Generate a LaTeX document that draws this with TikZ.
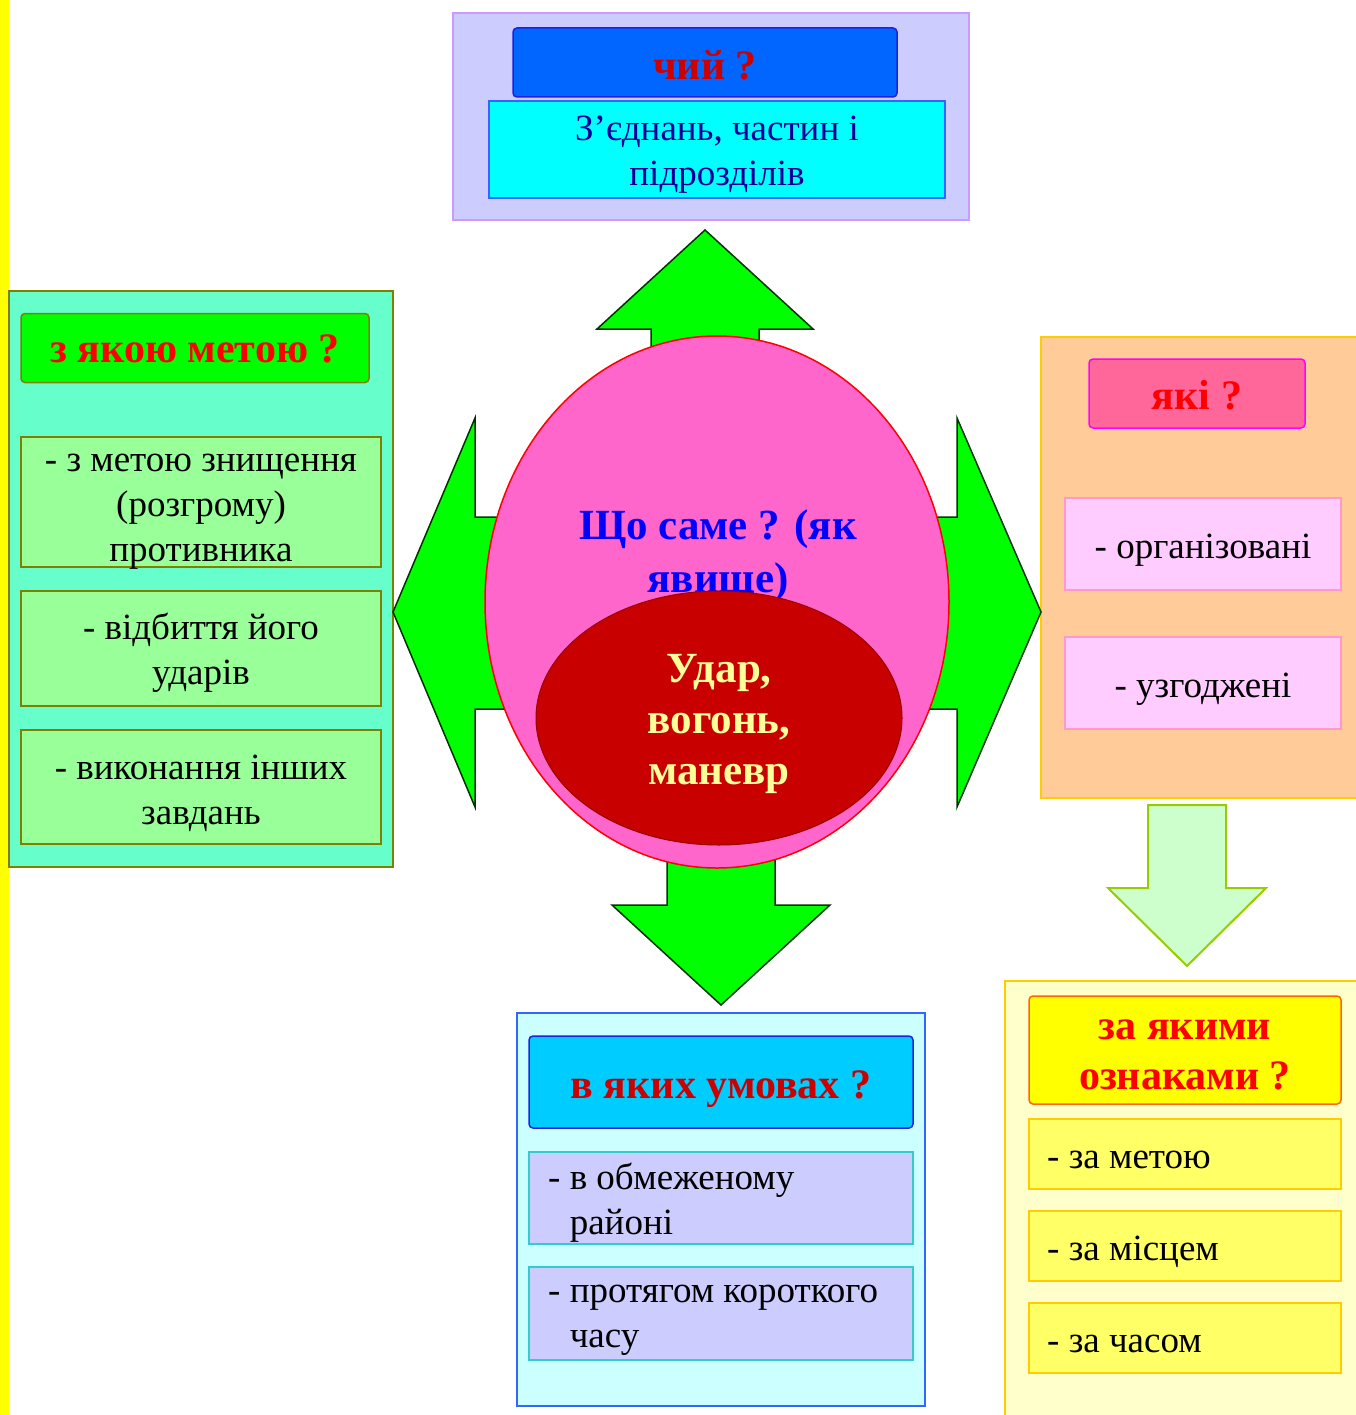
\documentclass[tikz,border=0pt]{standalone}
\usepackage{fontspec}
\setmainfont{Liberation Serif}
\usepackage{tikz}
\usetikzlibrary{shapes.geometric}

\definecolor{stripyel}{RGB}{255,255,0}
\definecolor{lilacfill}{RGB}{204,204,255}
\definecolor{lilacline}{RGB}{204,153,255}
\definecolor{royalfill}{RGB}{0,102,255}
\definecolor{royalline}{RGB}{30,34,224}
\definecolor{qred}{RGB}{204,0,0}
\definecolor{brightred}{RGB}{255,0,0}
\definecolor{aquafill}{RGB}{0,255,255}
\definecolor{aqualine}{RGB}{51,102,255}
\definecolor{inkblue}{RGB}{0,0,153}
\definecolor{arrowfill}{RGB}{0,255,0}
\definecolor{arrowline}{RGB}{0,51,0}
\definecolor{eggfill}{RGB}{255,102,204}
\definecolor{corefill}{RGB}{200,0,0}
\definecolor{coreline}{RGB}{153,0,0}
\definecolor{coretext}{RGB}{255,255,153}
\definecolor{mintfill}{RGB}{102,255,204}
\definecolor{oliveline}{RGB}{128,128,0}
\definecolor{leaffill}{RGB}{153,255,153}
\definecolor{peachfill}{RGB}{255,204,153}
\definecolor{goldline}{RGB}{255,204,0}
\definecolor{rosefill}{RGB}{255,102,153}
\definecolor{roseline}{RGB}{255,0,255}
\definecolor{blushfill}{RGB}{255,204,255}
\definecolor{blushline}{RGB}{255,153,204}
\definecolor{paleleaf}{RGB}{204,255,204}
\definecolor{paleleafline}{RGB}{153,204,0}
\definecolor{creamfill}{RGB}{255,255,204}
\definecolor{lemonline}{RGB}{255,102,0}
\definecolor{butterfill}{RGB}{255,255,102}
\definecolor{icefill}{RGB}{204,255,255}
\definecolor{skyfill}{RGB}{0,204,255}
\definecolor{tealline}{RGB}{51,204,204}

\begin{document}
\begin{tikzpicture}[x=1pt,y=-1pt,
    panel/.style={rectangle,draw,line width=1.5pt,inner sep=0pt},
    headbox/.style={panel,rounded corners=4pt},
    headtext/.style={inner sep=0pt,align=center,font=\fontsize{42}{50}\selectfont\bfseries},
    entrytext/.style={inner sep=0pt,align=center,font=\fontsize{37}{45}\selectfont},
    blockarrow/.style={fill=arrowfill,draw=arrowline,line width=1.5pt}]

  \useasboundingbox (0,0) rectangle (1355,1415);
  \fill[stripyel] (0,0) rectangle (9,1415);

  % top: whose ?
  \node[panel,fill=lilacfill,draw=lilacline,minimum width=516pt,minimum height=207pt] (TOP) at (711,116.5) {};
  \node[headbox,fill=royalfill,draw=royalline,minimum width=384pt,minimum height=69pt] (CHYI) at (705,62.5) {};
  \node[headtext,text=qred] (CHYIt) at (705,65.5) {чий ?};
  \node[panel,fill=aquafill,draw=aqualine,minimum width=456pt,minimum height=97pt] (ZYED) at (717,149.5) {};
  \node[entrytext,text=inkblue] (ZYEDt) at (717,154.5) {З’єднань, частин і\\підрозділів};

  % left: purpose
  \node[panel,fill=mintfill,draw=oliveline,minimum width=384pt,minimum height=576pt] (LEFT) at (201,579) {};
  \node[headbox,fill=arrowfill,draw=oliveline,minimum width=348pt,minimum height=69pt] (META) at (195,348) {};
  \node[headtext,text=brightred] (METAt) at (195,349) {з якою метою ?};
  \node[panel,fill=leaffill,draw=oliveline,minimum width=360pt,minimum height=130pt] (ZNYSH) at (201,502) {};
  \node[entrytext] (ZNYSHt) at (201,512) {- з метою знищення\\(розгрому)\\противника};
  \node[panel,fill=leaffill,draw=oliveline,minimum width=360pt,minimum height=115pt] (VIDB) at (201,648.5) {};
  \node[entrytext] (VIDBt) at (201,652.5) {- відбиття його\\ударів};
  \node[panel,fill=leaffill,draw=oliveline,minimum width=360pt,minimum height=114pt] (INSH) at (201,787) {};
  \node[entrytext] (INSHt) at (201,793) {- виконання інших\\завдань};

  % right: which ?
  \node[panel,fill=peachfill,draw=goldline,minimum width=324pt,minimum height=461pt] (RIGHT) at (1203,567.5) {};
  \node[headbox,fill=rosefill,draw=roseline,minimum width=216pt,minimum height=69pt] (YAKI) at (1197,393.5) {};
  \node[headtext,text=brightred] (YAKIt) at (1197,395.5) {які ?};
  \node[panel,fill=blushfill,draw=blushline,minimum width=276pt,minimum height=92pt] (ORG) at (1203,544) {};
  \node[entrytext] (ORGt) at (1203,550) {- організовані};
  \node[panel,fill=blushfill,draw=blushline,minimum width=276pt,minimum height=92pt] (UZG) at (1203,683) {};
  \node[entrytext] (UZGt) at (1203,689) {- узгоджені};

  % bottom right: by which features ?
  \node[panel,fill=creamfill,draw=goldline,minimum width=360pt,minimum height=444pt] (FEAT) at (1185,1203) {};
  \node[headbox,fill=stripyel,draw=lemonline,minimum width=312pt,minimum height=108pt] (OZN) at (1185,1050) {};
  \node[headtext,text=brightred] (OZNt) at (1185,1055) {за якими\\ознаками ?};
  \node[panel,fill=butterfill,draw=goldline,minimum width=312pt,minimum height=70pt] (ZAMET) at (1185,1154) {};
  \node[entrytext,anchor=west] (ZAMETt) at (1047,1160) {- за метою};
  \node[panel,fill=butterfill,draw=goldline,minimum width=312pt,minimum height=70pt] (ZAMIS) at (1185,1246) {};
  \node[entrytext,anchor=west] (ZAMISt) at (1047,1252) {- за місцем};
  \node[panel,fill=butterfill,draw=goldline,minimum width=312pt,minimum height=70pt] (ZACHAS) at (1185,1338) {};
  \node[entrytext,anchor=west] (ZACHASt) at (1047,1344) {- за часом};

  % bottom: conditions
  \node[panel,fill=icefill,draw=aqualine,minimum width=408pt,minimum height=393pt] (BOTTOM) at (721,1209.5) {};
  \node[headbox,fill=skyfill,draw=royalline,minimum width=384pt,minimum height=92pt] (UMOV) at (721,1082) {};
  \node[headtext,text=qred] (UMOVt) at (721,1089) {в яких умовах ?};
  \node[panel,fill=lilacfill,draw=tealline,minimum width=384pt,minimum height=92pt] (RAYON) at (721,1198) {};
  \node[entrytext,anchor=west,align=left] (RAYONt) at (548,1203) {- в обмеженому\\\phantom{- }районі};
  \node[panel,fill=lilacfill,draw=tealline,minimum width=384pt,minimum height=93pt] (CHAS) at (721,1313.5) {};
  \node[entrytext,anchor=west,align=left] (CHASt) at (548,1320) {- протягом короткого\\\phantom{- }часу};

  % green block arrows
  \draw[blockarrow] (651,400) -- (651,329) -- (597,329) -- (705,230) -- (813,329) -- (759,329) -- (759,400) -- cycle;
  \draw[blockarrow] (600,517) -- (475,517) -- (475,418) -- (393,612) -- (475,807) -- (475,709) -- (600,709) -- cycle;
  \draw[blockarrow] (830,517) -- (957,517) -- (957,418) -- (1041,612) -- (957,807) -- (957,709) -- (830,709) -- cycle;
  \draw[blockarrow] (667,800) -- (667,905) -- (612,905) -- (721,1005) -- (830,905) -- (775,905) -- (775,800) -- cycle;
  \draw[fill=paleleaf,draw=paleleafline,line width=2pt] (1148,805) -- (1148,888) -- (1108,888) -- (1187,966) -- (1266,888) -- (1226,888) -- (1226,805) -- cycle;

  % centre
  \node[ellipse,draw=brightred,fill=eggfill,line width=1.5pt,minimum width=464pt,minimum height=532pt] (SHCHO) at (717,602) {};
  \node[text=blue,align=center,font=\fontsize{43}{53}\selectfont\bfseries] (SHCHOt) at (718,556) {Що саме ? (як\\явище)};
  \node[ellipse,draw=coreline,fill=corefill,line width=1pt,minimum width=366pt,minimum height=254pt] (UDAR) at (719,718) {};
  \node[text=coretext,align=center,font=\fontsize{43}{51}\selectfont\bfseries] (UDARt) at (719,724) {Удар,\\вогонь,\\маневр};
\end{tikzpicture}
\end{document}
